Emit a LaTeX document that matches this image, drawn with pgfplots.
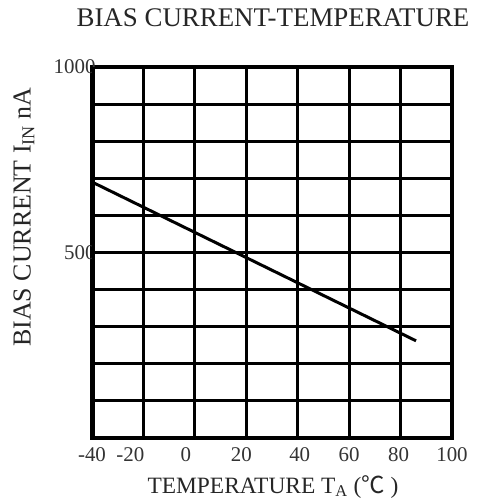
\documentclass[border=0pt]{standalone}
\usepackage{fontspec}
\setmainfont{Liberation Serif}
\newfontfamily\cjk{Noto Sans CJK SC}
\usepackage{pgfplots}
\pgfplotsset{compat=1.18}
\begin{document}
\begin{tikzpicture}[x=1bp,y=1bp]
\begin{axis}[
  at={(0,0)}, anchor=south west,
  width=360bp, height=371bp, scale only axis,
  xmin=-40, xmax=100, ymin=0, ymax=1000,
  xtick={-40,-20,...,100},
  xticklabels={-40,\hspace*{-26bp}-20,\hspace*{-18bp}0,\hspace*{-10bp}20,\hspace*{4bp}40,60,\hspace*{-4bp}80,100},
  ytick={0,100,...,1000},
  yticklabels={,,,,,500,,,,,1000},
  grid=major,
  major grid style={black, line width=3bp},
  axis line style={black, line width=4bp},
  major tick length=0pt,
  /pgf/number format/assume math mode=true,
  ticklabel style={font=\fontsize{21}{24}\selectfont, text=black!80},
  xticklabel style={yshift=-6bp},
  yticklabel style={xshift=7bp},
]
\addplot[black, line width=3bp] coordinates {(-40,690) (86,262)};
\draw[black, line width=6bp] (rel axis cs:0,0) -- (rel axis cs:0,1);
\end{axis}
\node[anchor=base, font=\fontsize{27}{30}\selectfont, text=black!85] at (181,411) {BIAS CURRENT-TEMPERATURE};
\node[anchor=base, font=\fontsize{23.5}{26}\selectfont, text=black!85] at (181,-55) {TEMPERATURE T\textsubscript{A} ({\cjk ℃} )};
\node[rotate=90, anchor=center, font=\fontsize{26}{29}\selectfont, text=black!85] at (-68,221) {BIAS CURRENT I\textsubscript{IN} nA};
\pgfresetboundingbox
\path (-92,-61) rectangle (391,438);
\end{tikzpicture}
\end{document}
